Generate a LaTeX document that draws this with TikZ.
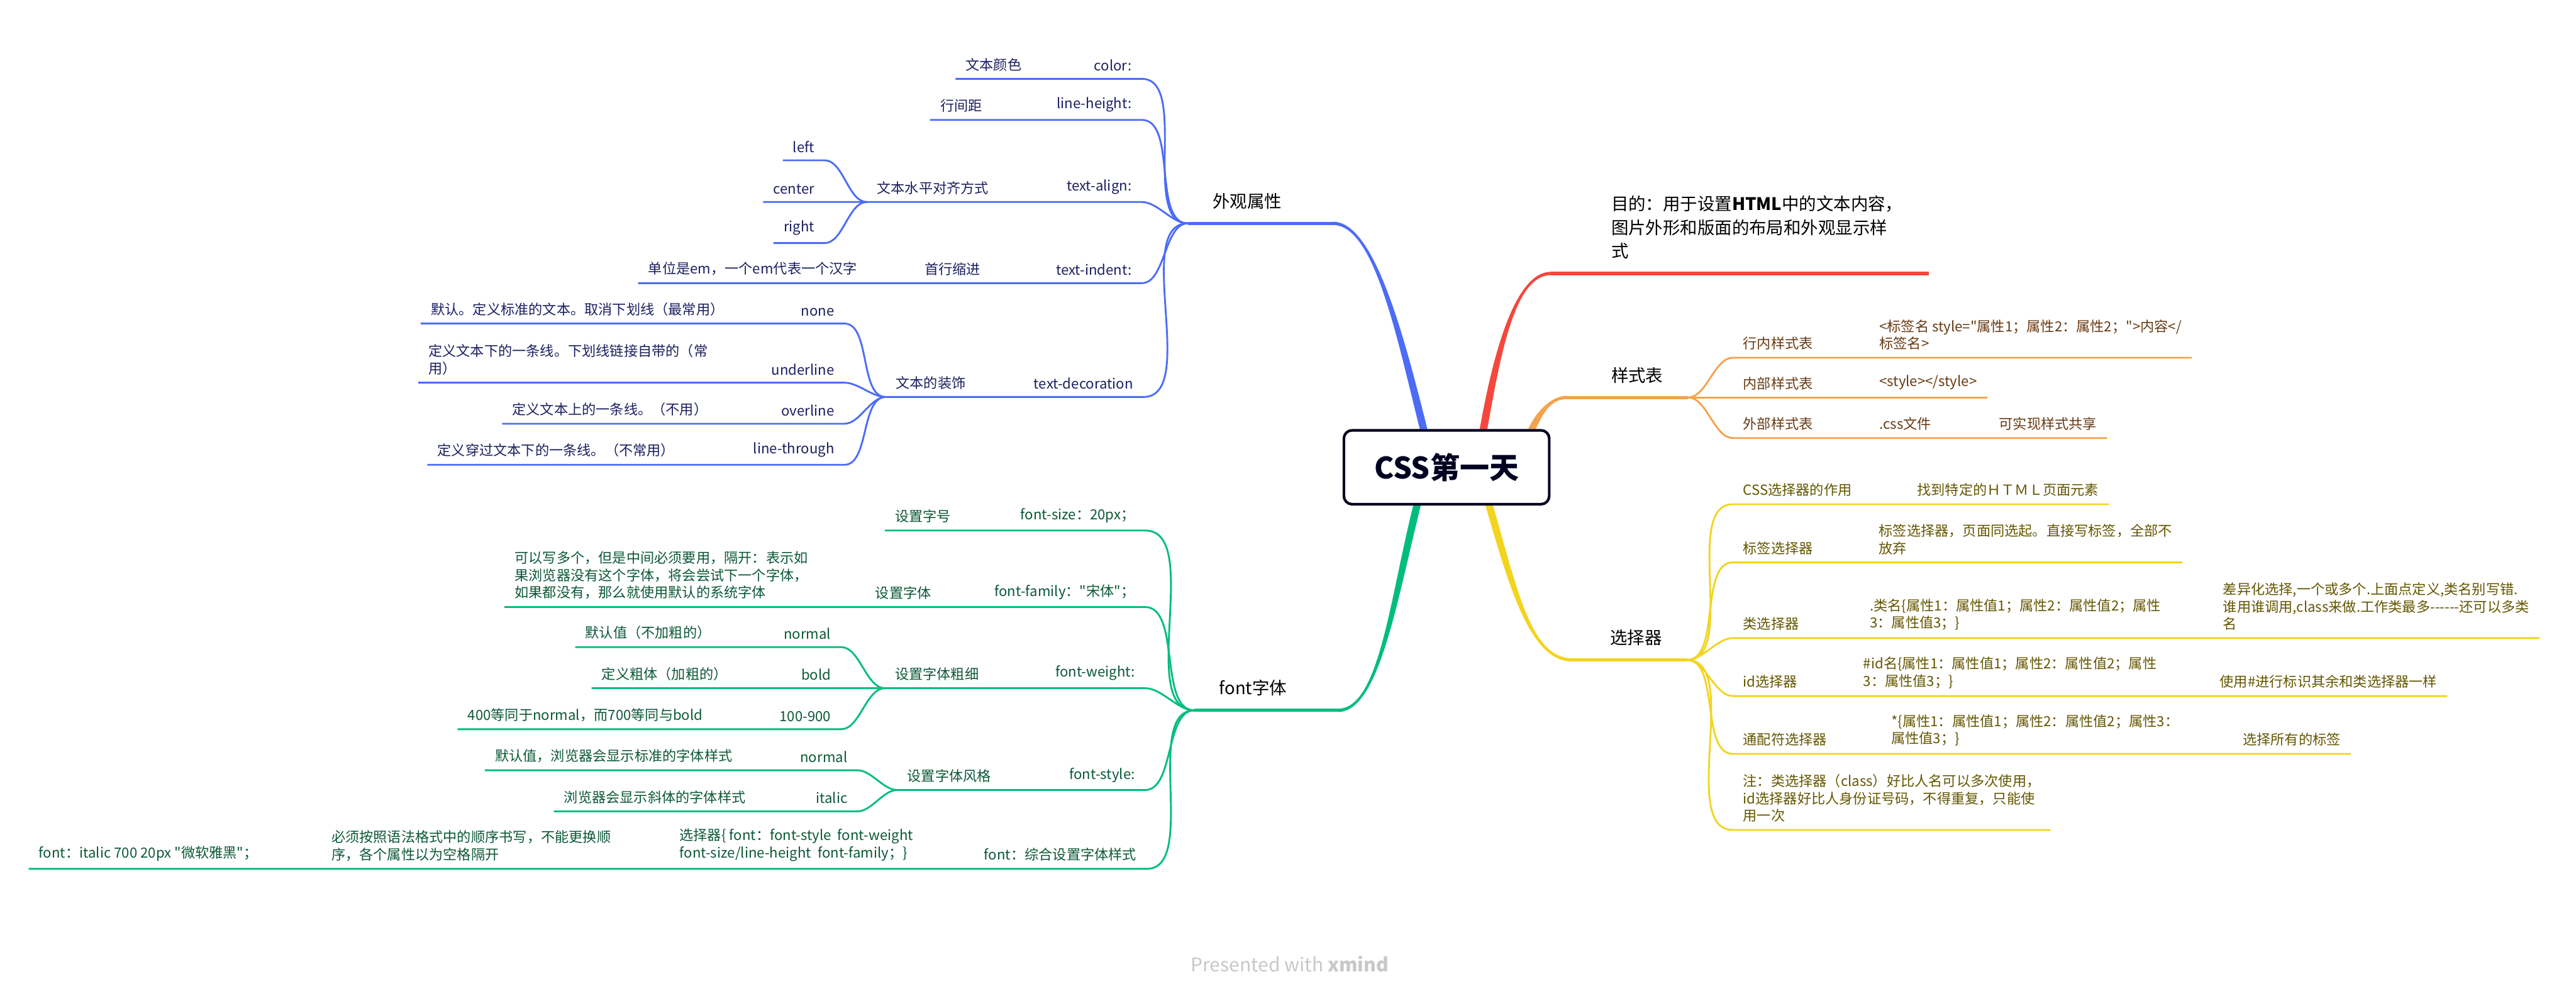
\documentclass[tikz,border=0pt]{standalone}
\usepackage{fontspec}
\setmainfont{Noto Sans CJK SC}[Ligatures=TeXOff]
\usetikzlibrary{backgrounds}
\definecolor{cblue}{RGB}{76,108,246}
\definecolor{cred}{RGB}{245,71,60}
\definecolor{corange}{RGB}{245,162,76}
\definecolor{cyellow}{RGB}{242,212,31}
\definecolor{cgreen}{RGB}{0,189,126}
\definecolor{tblue}{RGB}{28,32,96}
\definecolor{tgreen}{RGB}{12,88,56}
\definecolor{torange}{RGB}{104,58,18}
\definecolor{tyellow}{RGB}{100,86,0}
\definecolor{cnavy}{RGB}{0,0,32}
\definecolor{cgray}{RGB}{200,200,200}
\begin{document}
\begin{tikzpicture}[x=1pt,y=-1pt,
    every node/.style={font=\fontsize{8.5}{10.6}\selectfont,inner xsep=6pt,inner ysep=4.5pt,align=left},
    lf/.style={anchor=south east},
    rt/.style={anchor=south west},
    bnode/.style={lf,text=tblue},
    gnode/.style={lf,text=tgreen},
    onode/.style={rt,text=torange},
    ynode/.style={rt,text=tyellow},
    topic/.style={anchor=south west,inner xsep=15pt,inner ysep=8.5pt,font=\fontsize{10.5}{14.5}\selectfont},
    cv/.style={out=0,in=180,looseness=0.8},
    bl/.style={cblue,line width=1.1pt},
    gl/.style={cgreen,line width=1.1pt},
    ol/.style={corange,line width=1.1pt},
    yl/.style={cyellow,line width=1.1pt},
    mainline/.style={line width=2pt}]
    \useasboundingbox (0,0) rectangle (1568,602);
    % centre
    \node[draw=cnavy,line width=1.6pt,rounded corners=5pt,minimum width=125pt,minimum height=45pt,inner sep=0pt,text=cnavy,font=\bfseries\fontsize{18}{18}\selectfont] (root) at (880.5,284.5) {CSS第一天};
    % 外观属性
    \node[topic] (wgsx) at (723,136) {外观属性};
    \node[bnode] (color) at (695,48) {color:};
    \node[bnode] (wzys) at (628,48) {文本颜色};
    \node[bnode] (lh) at (695,73) {line-height:};
    \node[bnode] (hjj) at (604,73) {行间距};
    \node[bnode] (ta) at (695,123) {text-align:};
    \node[bnode] (wbsp) at (608,123) {文本水平对齐方式};
    \node[bnode] (aleft) at (502,97.6) {left};
    \node[bnode] (acenter) at (502,123) {center};
    \node[bnode] (aright) at (502,148) {right};
    \node[bnode] (ti) at (695,172.4) {text-indent:};
    \node[bnode] (sxsj) at (603,172.4) {首行缩进};
    \node[bnode] (emhz) at (528,172.4) {单位是em，一个em代表一个汉字};
    \node[bnode] (td) at (696,241.7) {text-decoration};
    \node[bnode] (wbzs) at (594,241.7) {文本的装饰};
    \node[bnode] (dnone) at (514,197) {none};
    \node[bnode] (dnonet) at (447,197) {默认。定义标准的文本。取消下划线（最常用）};
    \node[bnode] (dunder) at (514,233) {underline};
    \node[bnode] (dundert) at (437,233) {定义文本下的一条线。下划线链接自带的（常\\用）};
    \node[bnode] (dover) at (514,258) {overline};
    \node[bnode] (dovert) at (437,258) {定义文本上的一条线。（不用）};
    \node[bnode] (dthr) at (514,283) {line-through};
    \node[bnode] (dthrt) at (417,283) {定义穿过文本下的一条线。（不常用）};
    \draw[bl] (wzys.south west) -- (color.south east) to[cv] (wgsx.south west);
    \draw[bl] (hjj.south west) -- (lh.south east) to[cv] (wgsx.south west);
    \draw[bl] (acenter.south west) -- (ta.south east) to[cv] (wgsx.south west);
    \draw[bl] (aleft.south west) -- (aleft.south east) to[cv] (wbsp.south west);
    \draw[bl] (aright.south west) -- (aright.south east) to[cv] (wbsp.south west);
    \draw[bl] (emhz.south west) -- (ti.south east) to[cv] (wgsx.south west);
    \draw[bl] (wbzs.south west) -- (td.south east) to[cv] (wgsx.south west);
    \draw[bl] (dnonet.south west) -- (dnone.south east) to[cv] (wbzs.south west);
    \draw[bl] (dundert.south west) -- (dunder.south east) to[cv] (wbzs.south west);
    \draw[bl] (dovert.south west) -- (dover.south east) to[cv] (wbzs.south west);
    \draw[bl] (dthrt.south west) -- (dthr.south east) to[cv] (wbzs.south west);
    \draw[cblue,mainline] ([xshift=16pt]wgsx.south east) -- (wgsx.south west);
    % font字体
    \node[topic] (fontzt) at (727,432.5) {font字体};
    \node[gnode] (fsz) at (697,323) {font-size：20px；};
    \node[gnode] (szzh) at (585,323) {设置字号};
    \node[gnode] (ffam) at (697,369.6) {font-family："宋体"；};
    \node[gnode] (szzt) at (573,369.6) {设置字体};
    \node[gnode] (ffamt) at (498,369.6) {可以写多个，但是中间必须要用，隔开：表示如\\果浏览器没有这个字体，将会尝试下一个字体，\\如果都没有，那么就使用默认的系统字体};
    \node[gnode] (fw) at (697,419) {font-weight:};
    \node[gnode] (szcx) at (602,419) {设置字体粗细};
    \node[gnode] (wnormal) at (512,394) {normal};
    \node[gnode] (wnormalt) at (439,394) {默认值（不加粗的）};
    \node[gnode] (wbold) at (512,419) {bold};
    \node[gnode] (wboldt) at (449,419) {定义粗体（加粗的）};
    \node[gnode] (wrange) at (512,444) {100-900};
    \node[gnode] (wranget) at (434,444) {400等同于normal，而700等同与bold};
    \node[gnode] (fst) at (697,481) {font-style:};
    \node[gnode] (szfg) at (609.5,481) {设置字体风格};
    \node[gnode] (snormal) at (522,469) {normal};
    \node[gnode] (snormalt) at (452,469) {默认值，浏览器会显示标准的字体样式};
    \node[gnode] (sitalic) at (522,494) {italic};
    \node[gnode] (sitalict) at (460,494) {浏览器会显示斜体的字体样式};
    \node[gnode] (fnt) at (698,529) {font：综合设置字体样式};
    \node[gnode] (fntsel) at (562,529) {选择器\{ font：font-style\ \ font-weight\\font-size/line-height\ \ font-family；\}};
    \node[gnode] (fntord) at (378,529) {必须按照语法格式中的顺序书写，不能更换顺\\序，各个属性以为空格隔开};
    \node[gnode] (fntex) at (163,529) {font：italic 700 20px "微软雅黑"；};
    \draw[gl] (szzh.south west) -- (fsz.south east) to[cv] (fontzt.south west);
    \draw[gl] (ffamt.south west) -- (ffam.south east) to[cv] (fontzt.south west);
    \draw[gl] (wboldt.south west) -- (fw.south east) to[cv] (fontzt.south west);
    \draw[gl] (wnormalt.south west) -- (wnormal.south east) to[cv] (szcx.south west);
    \draw[gl] (wranget.south west) -- (wrange.south east) to[cv] (szcx.south west);
    \draw[gl] (szfg.south west) -- (fst.south east) to[cv] (fontzt.south west);
    \draw[gl] (snormalt.south west) -- (snormal.south east) to[cv] (szfg.south west);
    \draw[gl] (sitalict.south west) -- (sitalic.south east) to[cv] (szfg.south west);
    \draw[gl] (fntex.south west) -- (fnt.south east) to[cv] (fontzt.south west);
    \draw[cgreen,mainline] ([xshift=16pt]fontzt.south east) -- (fontzt.south west);
    % 目的
    \node[topic,text width=178pt] (mudi) at (965.6,166.5) {目的：用于设置\textbf{HTML}中的文本内容，\\图片外形和版面的布局和外观显示样\\式};
    \draw[cred,mainline] ([xshift=-21.6pt]mudi.south west) -- (mudi.south east);
    % 样式表
    \node[topic] (ysb) at (965.6,242) {样式表};
    \node[onode] (hn) at (1054.8,217.8) {行内样式表};
    \node[onode] (hnt) at (1137.8,217.8) {<标签名 style="属性1；属性2：属性2；">内容</\\标签名>};
    \node[onode] (nb) at (1054.8,242) {内部样式表};
    \node[onode] (nbt) at (1137.8,242) {<style></style>};
    \node[onode] (wb) at (1054.8,266.7) {外部样式表};
    \node[onode] (wbt) at (1137.8,266.7) {.css文件};
    \node[onode] (wbs) at (1210.6,266.7) {可实现样式共享};
    \draw[ol] (ysb.south east) to[cv] (hn.south west) -- (hnt.south east);
    \draw[ol] (ysb.south east) -- (nbt.south east);
    \draw[ol] (ysb.south east) to[cv] (wb.south west) -- (wbs.south east);
    \draw[corange,mainline] ([xshift=-12pt]ysb.south west) -- (ysb.south east);
    % 选择器
    \node[topic] (xzq) at (965,401.8) {选择器};
    \node[ynode] (zy) at (1054.8,307) {CSS选择器的作用};
    \node[ynode] (zyt) at (1160.8,307) {找到特定的ＨＴＭＬ页面元素};
    \node[ynode] (bq) at (1054.8,342.4) {标签选择器};
    \node[ynode] (bqt) at (1137.5,342.4) {标签选择器，页面同选起。直接写标签，全部不\\放弃};
    \node[ynode] (lei) at (1054.8,388.5) {类选择器};
    \node[ynode] (leit) at (1132,388.5) {.类名\{属性1：属性值1；属性2：属性值2；属性\\3：属性值3；\}};
    \node[ynode] (leis) at (1347,388.5) {差异化选择,一个或多个.上面点定义,类名别写错.\\谁用谁调用,class来做.工作类最多------还可以多类\\名};
    \node[ynode] (idx) at (1054.8,423.8) {id选择器};
    \node[ynode] (idt) at (1128,423.8) {\#id名\{属性1：属性值1；属性2：属性值2；属性\\3：属性值3；\}};
    \node[ynode] (ids) at (1345,423.8) {使用\#进行标识其余和类选择器一样};
    \node[ynode] (tp) at (1054.8,459) {通配符选择器};
    \node[ynode] (tpt) at (1145,459) {*\{属性1：属性值1；属性2：属性值2；属性3：\\属性值3；\}};
    \node[ynode] (tps) at (1359,459) {选择所有的标签};
    \node[ynode] (zhu) at (1054.8,505.3) {注：类选择器（class）好比人名可以多次使用，\\id选择器好比人身份证号码，不得重复，只能使\\用一次};
    \draw[yl] (xzq.south east) to[cv] (zy.south west) -- (zyt.south east);
    \draw[yl] (xzq.south east) to[cv] (bq.south west) -- (bqt.south east);
    \draw[yl] (xzq.south east) to[cv] (lei.south west) -- (leis.south east);
    \draw[yl] (xzq.south east) to[cv] (idx.south west) -- (ids.south east);
    \draw[yl] (xzq.south east) to[cv] (tp.south west) -- (tps.south east);
    \draw[yl] (xzq.south east) to[cv] (zhu.south west) -- (zhu.south east);
    \draw[cyellow,mainline] ([xshift=-8pt]xzq.south west) -- (xzq.south east);
    % main branches, tapering from the centre
    \begin{scope}[on background layer]
        \fill[cblue] ([xshift=-16.3pt]root.north) .. controls +(-14.5,-58) and +(25,0) .. ([xshift=16pt,yshift=-1pt]wgsx.south east)
            -- ([xshift=16pt,yshift=1pt]wgsx.south east) .. controls +(25,0) and +(-14.5,-58) .. ([xshift=-11.7pt]root.north) -- cycle;
        \fill[cgreen] ([xshift=-20.3pt]root.south) .. controls +(-14.5,58) and +(25,0) .. ([xshift=16pt,yshift=1pt]fontzt.south east)
            -- ([xshift=16pt,yshift=-1pt]fontzt.south east) .. controls +(25,0) and +(-14.5,58) .. ([xshift=-15.7pt]root.south) -- cycle;
        \fill[cred] ([xshift=20.2pt]root.north) .. controls +(8,-45) and +(-22,0) .. ([xshift=-21.6pt,yshift=1pt]mudi.south west)
            -- ([xshift=-21.6pt,yshift=-1pt]mudi.south west) .. controls +(-22,0) and +(8,-45) .. ([xshift=24.8pt]root.north) -- cycle;
        \fill[corange] ([xshift=49.7pt]root.north) .. controls +(5,-11) and +(-9,0) .. ([xshift=-12pt,yshift=1pt]ysb.south west)
            -- ([xshift=-12pt,yshift=-1pt]ysb.south west) .. controls +(-9,0) and +(5,-11) .. ([xshift=54.3pt]root.north) -- cycle;
        \fill[cyellow] ([xshift=23.7pt]root.south) .. controls +(15,52) and +(-25,0) .. ([xshift=-8pt,yshift=-1pt]xzq.south west)
            -- ([xshift=-8pt,yshift=1pt]xzq.south west) .. controls +(-25,0) and +(15,52) .. ([xshift=28.3pt]root.south) -- cycle;
    \end{scope}
    % footer
    \node[font=\fontsize{11.5}{12}\selectfont,text=cgray,inner sep=0pt] (credit) at (785,587) {Presented with \textbf{xmind}};
\end{tikzpicture}
\end{document}
